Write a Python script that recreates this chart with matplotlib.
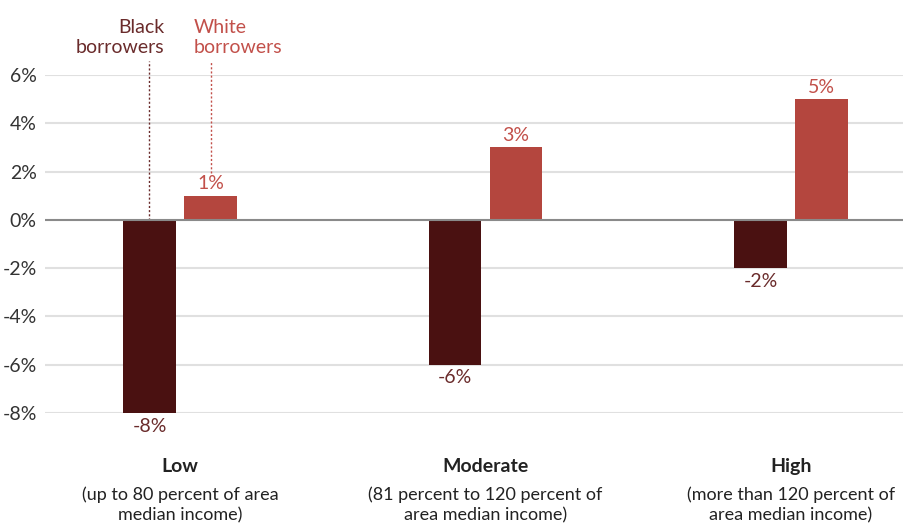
import matplotlib.pyplot as plt
import numpy as np

# --- Data ---
groups = ["Low", "Moderate", "High"]
group_notes = [
    "(up to 80 percent of area\nmedian income)",
    "(81 percent to 120 percent of\narea median income)",
    "(more than 120 percent of\narea median income)",
]
black_vals = [-8, -6, -2]
white_vals = [1, 3, 5]
yticks = [-8, -6, -4, -2, 0, 2, 4, 6]

BLACK_BAR = '#4a1111'
WHITE_BAR = '#b4463e'
BLACK_TXT = '#6a2b2b'
WHITE_TXT = '#c2504a'

plt.rcParams['font.family'] = ['Lato', 'DejaVu Sans']
FS = 14

W, H = 904, 529
fig = plt.figure(figsize=(W / 100, H / 100), dpi=100, facecolor='white')
ax = fig.add_axes([45 / W, (H - 413) / H, (W - 45) / W, (413 - 75) / H])

x = np.arange(len(groups))
bw = 0.173
off = 0.1
ax.set_xlim(-0.442, 2.37)
ax.set_ylim(-8, 6)

for t in yticks:
    if t == 0:
        continue
    ax.axhline(t, color='#e0e0e0', lw=1.5, zorder=0)

ax.bar(x - off, black_vals, width=bw, color=BLACK_BAR, zorder=2)
ax.bar(x + off, white_vals, width=bw, color=WHITE_BAR, zorder=2)
ax.axhline(0, color='#8a8a8a', lw=1.5, zorder=3)

for xi, v in zip(x, black_vals):
    ax.text(xi - off, v - 0.55, f"{v}%", ha='center', va='center',
            fontsize=FS, color=BLACK_TXT, clip_on=False)
for xi, v in zip(x, white_vals):
    ax.text(xi + off, v + 0.5, f"{v}%", ha='center', va='center',
            fontsize=FS, color=WHITE_TXT, clip_on=False)

# Group labels under the plot
for xi, g, note in zip(x, groups, group_notes):
    ax.text(xi, -10.2, g, ha='center', va='center', fontsize=FS,
            fontweight='bold', color='#222222', clip_on=False)
    ax.text(xi, -11.8, note, ha='center', va='center', fontsize=13,
            color='#222222', linespacing=1.32, clip_on=False)

# Series call-outs with dotted leader lines
ax.plot([-off, -off], [0, 6.6], ls=(0, (1.5, 1.5)), lw=1, color=BLACK_TXT,
        clip_on=False, zorder=1)
ax.plot([off, off], [1.95, 6.6], ls=(0, (1.5, 1.5)), lw=1, color=WHITE_TXT,
        clip_on=False, zorder=1)
ax.text(-0.05, 7.56, "Black\nborrowers", ha='right', va='center', fontsize=FS,
        color=BLACK_TXT, linespacing=1.2, clip_on=False)
ax.text(0.046, 7.56, "White\nborrowers", ha='left', va='center', fontsize=FS,
        color=WHITE_TXT, linespacing=1.2, clip_on=False)

ax.set_yticks(yticks)
ax.set_yticklabels([f"{t}%" for t in yticks], fontsize=FS, color='#333333')
ax.tick_params(axis='y', length=0, pad=6)
ax.set_xticks([])
for s in ax.spines.values():
    s.set_visible(False)

fig.savefig('out.png', dpi=100, facecolor='white')
